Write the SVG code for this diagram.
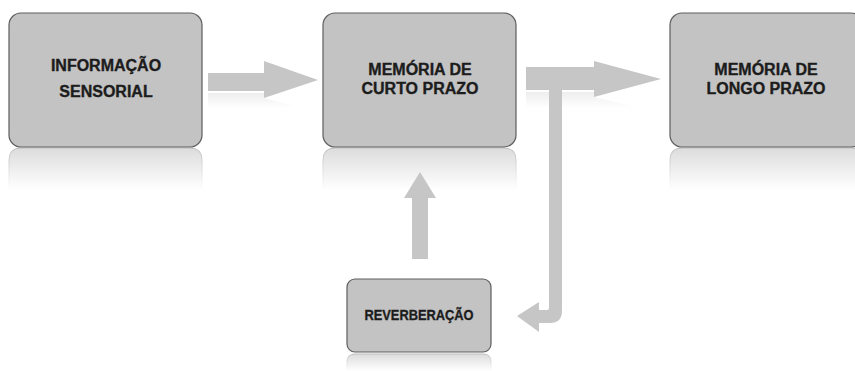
<svg xmlns="http://www.w3.org/2000/svg" width="855" height="371" viewBox="0 0 855 371">
<defs>
<linearGradient id="refl" x1="0" y1="0" x2="0" y2="1">
<stop offset="0" stop-color="#dcdcdc"/>
<stop offset="0.5" stop-color="#eeeeee"/>
<stop offset="1" stop-color="#ffffff"/>
</linearGradient>
<linearGradient id="reflEdge" x1="0" y1="0" x2="0" y2="1">
<stop offset="0" stop-color="#bdbdbd"/>
<stop offset="1" stop-color="#ffffff"/>
</linearGradient>
<linearGradient id="arrRefl" x1="0" y1="0" x2="0" y2="1">
<stop offset="0" stop-color="#e2e2e2"/>
<stop offset="1" stop-color="#ffffff"/>
</linearGradient>
</defs>
<style>
.box{fill:#c3c3c3;stroke:#5e5e5e;stroke-width:1.2}
.refl{fill:url(#refl);stroke:url(#reflEdge);stroke-width:1}
.lbl{font-family:"Liberation Sans",Arial,sans-serif;font-weight:bold;font-size:16px;fill:#1c1c1c;stroke:#1c1c1c;stroke-width:0.35;text-anchor:middle}
.small{font-size:15.5px}
.arrow{fill:#c6c6c6}
.arefl{fill:url(#arrRefl)}
</style>
<rect width="855" height="371" fill="#ffffff"/>
<g id="node-informacao">
<path class="refl" d="M9,190 V160 Q9,148 21,148 H190 Q202,148 202,160 V190"/>
<rect class="box" x="9" y="13" width="193" height="134" rx="12"/>
<text class="lbl" x="106" y="71">INFORMAÇÃO</text>
<text class="lbl" x="106" y="97">SENSORIAL</text>
</g>
<g id="node-curto">
<path class="refl" d="M323,190 V160 Q323,148 335,148 H504 Q516,148 516,160 V190"/>
<rect class="box" x="323" y="13" width="193" height="134" rx="12"/>
<text class="lbl" x="420" y="75">MEMÓRIA DE</text>
<text class="lbl" x="420" y="94">CURTO PRAZO</text>
</g>
<g id="node-longo">
<path class="refl" d="M670,190 V160 Q670,148 682,148 H851 Q863,148 863,160 V190"/>
<rect class="box" x="670" y="13" width="193" height="134" rx="12"/>
<text class="lbl" x="766" y="75">MEMÓRIA DE</text>
<text class="lbl" x="766" y="94">LONGO PRAZO</text>
</g>
<g id="node-reverberacao">
<path class="refl" d="M347,371 V362 Q347,354 355,354 H483 Q491,354 491,362 V371"/>
<rect class="box" x="347" y="279" width="144" height="73" rx="8"/>
<text class="lbl small" x="419" y="320" textLength="109" lengthAdjust="spacingAndGlyphs">REVERBERAÇÃO</text>
</g>
<g id="connectors">
<path class="arefl" d="M208,93 H264 V98 L300,108 L208,108 Z" opacity="0.6"/>
<path class="arefl" d="M526,92 H594 V97 L640,108 L526,108 Z" opacity="0.6"/>
<path class="arrow" d="M208,73 H264 V61 L318,80 L264,98 V91 H208 Z"/>
<path class="arrow" d="M526,67 H594 V61 L661,79 L594,97 V90 H526 Z"/>
<path class="arrow" d="M549,90 H562 V311 Q562,323 550,323 H539 V332 L517,316 L539,302 V310 H547 Q549,310 549,308 Z"/>
<path class="arrow" d="M412,259 V198 H404 L420,172 L436,198 H428 V259 Z"/>
</g>
</svg>
